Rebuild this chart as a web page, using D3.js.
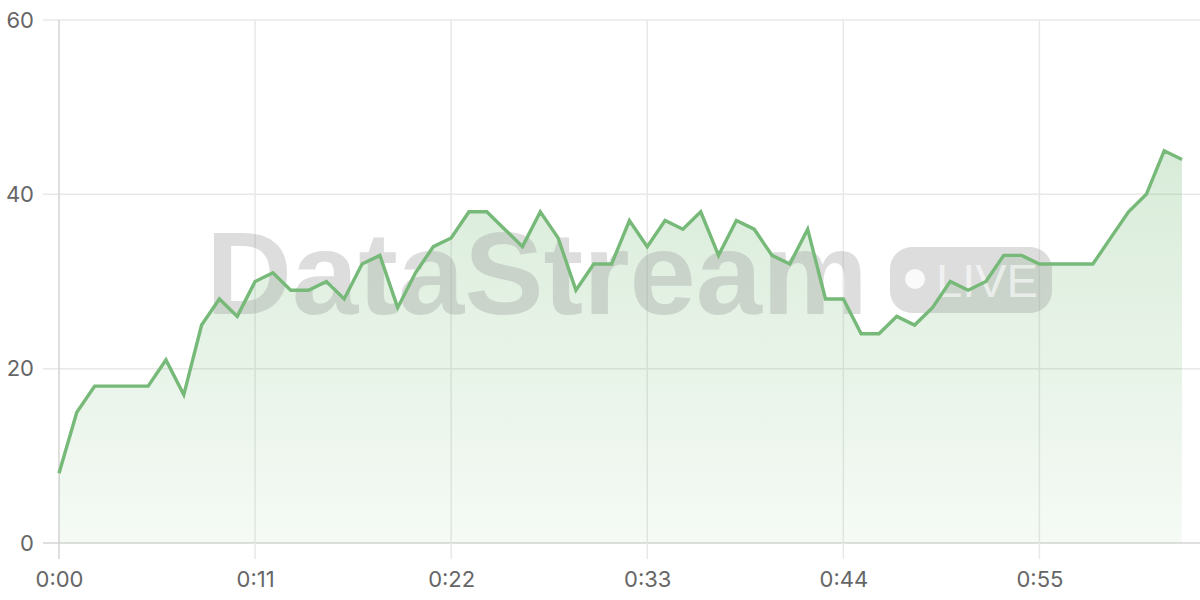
<!DOCTYPE html>
<html><head><meta charset="utf-8">
<script src="https://cdn.jsdelivr.net/npm/d3@7/dist/d3.min.js"></script>
<style>
html,body{margin:0;padding:0;background:#fff;}
svg{display:block;font-family:Inter,"Liberation Sans",Arial,sans-serif;}
</style></head>
<body><svg id="c" width="1200" height="600"></svg>
<script>
const seconds = d3.range(0, 64);
const values = [8,15,18,18,18,18,21,17,25,28,26,30,31,29,29,30,28,32,33,27,31,34,35,38,38,36,34,38,35,29,32,32,37,34,37,36,38,33,37,36,33,32,36,28,28,24,24,26,25,27,30,29,30,33,33,32,32,32,32,35,38,40,45,44];
const xTicks = [0,11,22,33,44,55];
const yTicks = [0,20,40,60];
const data = seconds.map((s,i)=>({s, v: values[i]}));

const svg = d3.select("#c");
const x = d3.scaleLinear().domain([0,63]).range([59,1182]);
const y = d3.scaleLinear().domain([0,60]).range([543,20]);
const fmt = s => Math.floor(s/60) + ":" + String(s%60).padStart(2,"0");

const defs = svg.append("defs");
const grad = defs.append("linearGradient").attr("id","g").attr("x1",0).attr("x2",0)
  .attr("gradientUnits","userSpaceOnUse").attr("y1",y(45)).attr("y2",y(0));
grad.append("stop").attr("offset",0).attr("stop-color","#74b976").attr("stop-opacity",0.28);
grad.append("stop").attr("offset",1).attr("stop-color","#74b976").attr("stop-opacity",0.07);

// grid
svg.append("g").selectAll("line").data(yTicks).join("line")
  .attr("x1",43).attr("x2",1200).attr("y1",d=>y(d)).attr("y2",d=>y(d))
  .attr("stroke",d=>d===0?"#d4d4d4":"#e8e8e8").attr("stroke-width",1.5);
svg.append("g").selectAll("line").data(xTicks).join("line")
  .attr("y1",20).attr("y2",559).attr("x1",d=>x(d)).attr("x2",d=>x(d))
  .attr("stroke",d=>d===0?"#d4d4d4":"#e8e8e8").attr("stroke-width",1.5);

// area
svg.append("path").datum(data)
  .attr("d", d3.area().x(d=>x(d.s)).y0(y(0)).y1(d=>y(d.v)))
  .attr("fill","url(#g)");

// watermark
const wm = svg.append("g").attr("pointer-events","none");
wm.append("text").attr("x",206).attr("y",314).text("DataStream")
  .attr("font-family","'Liberation Sans',Arial,sans-serif")
  .attr("font-size",117).attr("font-weight","bold").attr("fill","#9a9a9a").attr("fill-opacity",0.34)
  .attr("textLength",662).attr("lengthAdjust","spacingAndGlyphs");
wm.append("rect").attr("x",890).attr("y",247).attr("width",162).attr("height",66).attr("rx",22)
  .attr("fill","#9a9a9a").attr("fill-opacity",0.34);
wm.append("circle").attr("cx",915).attr("cy",279).attr("r",10).attr("fill","#fff").attr("fill-opacity",0.85);
wm.append("text").attr("x",936).attr("y",297).text("LIVE")
  .attr("font-family","'Liberation Sans',Arial,sans-serif")
  .attr("font-size",47).attr("fill","#fff").attr("fill-opacity",0.6);

// line
svg.append("path").datum(data)
  .attr("d", d3.line().x(d=>x(d.s)).y(d=>y(d.v)))
  .attr("fill","none").attr("stroke","#76b978").attr("stroke-width",3.4).attr("stroke-linejoin","miter");

// axes labels
const yAxis = svg.append("g").attr("transform","translate(59,0)")
  .call(d3.axisLeft(y).tickValues(yTicks).tickSize(0).tickPadding(25));
const xAxis = svg.append("g").attr("transform","translate(0,543)")
  .call(d3.axisBottom(x).tickValues(xTicks).tickFormat(fmt).tickSize(0).tickPadding(28));
[yAxis,xAxis].forEach(a=>{
  a.select(".domain").remove();
  a.selectAll("text").attr("font-size",22).attr("fill","#666").attr("font-family","Inter,'Liberation Sans',Arial,sans-serif");
});
</script></body></html>
